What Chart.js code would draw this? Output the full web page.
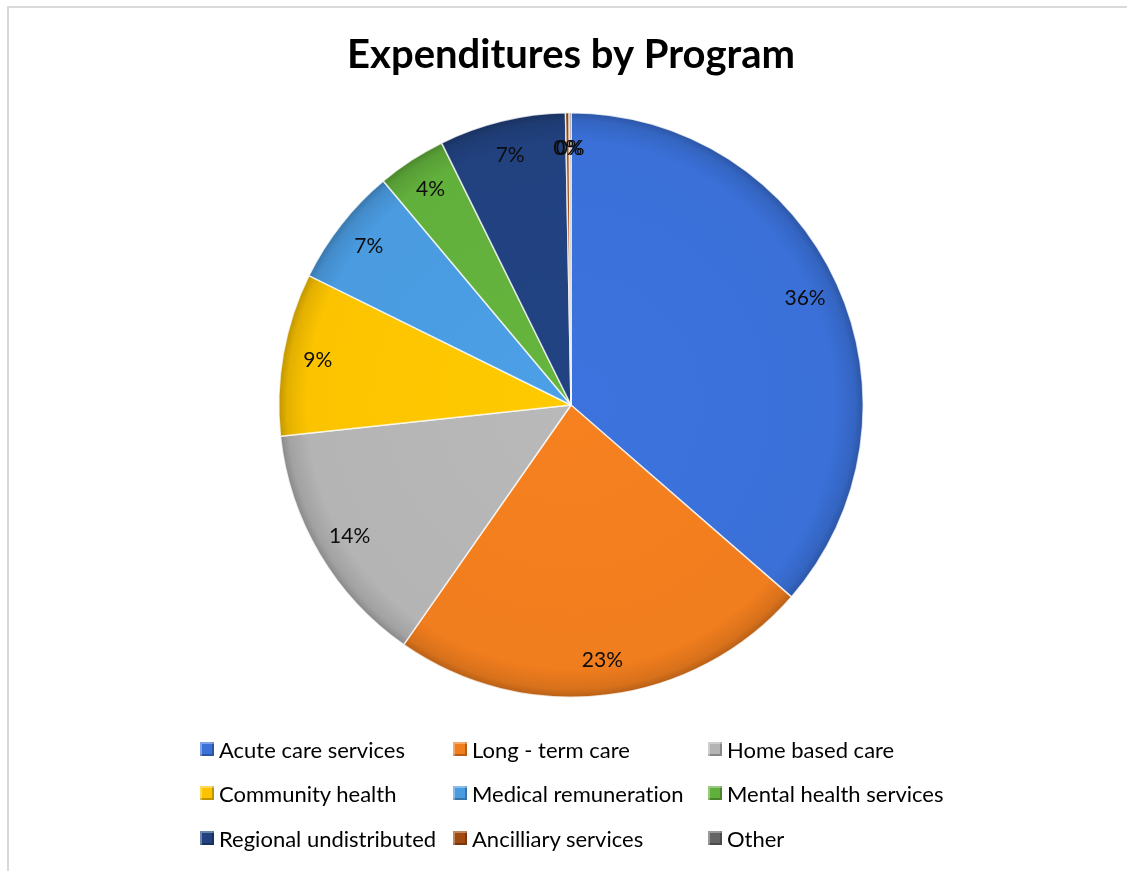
<!DOCTYPE html>
<html>
<head>
<meta charset="utf-8">
<script src="https://cdn.jsdelivr.net/npm/chart.js@4.4.1/dist/chart.umd.min.js"></script>
<style>
  html, body { margin: 0; padding: 0; background: #fff; }
  #wrap { position: relative; width: 1127px; height: 871px; overflow: hidden; }
  #frame { position: absolute; left: 7px; top: 6px; right: -4px; bottom: -4px;
           border-top: 2px solid #d9d9d9; border-left: 2px solid #d9d9d9; }
  #chart_pie { position: absolute; left: 0; top: 0; }
  #legend { position: absolute; left: 0; top: 0; font-family: Lato, "Noto Sans", sans-serif;
            font-size: 22px; color: #000; font-variant-ligatures: none; }
  .item { position: absolute; display: flex; align-items: center; white-space: nowrap; }
  .box { width: 14px; height: 14px; margin-right: 5px; box-sizing: border-box;
         box-shadow: inset 2px 2px 0 rgba(255,255,255,0.35), inset -2px -2px 0 rgba(0,0,0,0.25); }
</style>
</head>
<body>
<div id="wrap">
  <div id="frame"></div>
  <canvas id="chart_pie" width="1127" height="871"></canvas>
  <div id="legend"></div>
</div>
<script>
// Program categories and their share of expenditures (%)
const categories = ['Acute care services', 'Long - term care', 'Home based care',
  'Community health', 'Medical remuneration', 'Mental health services',
  'Regional undistributed', 'Ancilliary services', 'Other'];
const shares = [36.4, 23.3, 13.6, 9.0, 6.6, 3.8, 7.0, 0.2, 0.1];
const sliceColors = ['#3a70d8', '#f07d1e', '#b4b4b4', '#fcc400', '#4a9be0',
  '#62b03c', '#21417f', '#a04a10', '#646464'];

// legend layout: 3 columns x 3 rows
const legendCols = [200, 453, 708];
const legendRows = [749, 793, 838];

const legend = document.getElementById('legend');
categories.forEach((name, i) => {
  const item = document.createElement('div');
  item.className = 'item';
  item.style.left = legendCols[i % 3] + 'px';
  item.style.top = (legendRows[Math.floor(i / 3)] - 14) + 'px';
  item.style.height = '28px';
  const box = document.createElement('span');
  box.className = 'box';
  box.style.background = sliceColors[i];
  item.appendChild(box);
  item.appendChild(document.createTextNode(name));
  legend.appendChild(item);
});

// percentage labels drawn inside each slice
const sliceLabels = {
  id: 'sliceLabels',
  afterDatasetsDraw(chart) {
    const ctx = chart.ctx;
    const meta = chart.getDatasetMeta(0);
    const total = shares.reduce((a, b) => a + b, 0);
    ctx.save();
    ctx.font = '21px Lato, "Noto Sans", sans-serif';
    ctx.fillStyle = '#0d0d0d';
    ctx.textAlign = 'center';
    ctx.textBaseline = 'middle';
    meta.data.forEach((arc, i) => {
      const p = arc.getProps(['x', 'y', 'startAngle', 'endAngle', 'outerRadius'], true);
      const mid = (p.startAngle + p.endAngle) / 2;
      const r = p.outerRadius * 0.88;
      const pct = Math.round(shares[i] / total * 100) + '%';
      ctx.fillText(pct, p.x + Math.cos(mid) * r, p.y + Math.sin(mid) * r);
    });
    ctx.restore();
  }
};

// slightly darker rim to mimic the bevelled slices
function shade(hex, f) {
  const n = parseInt(hex.slice(1), 16);
  const c = [n >> 16, (n >> 8) & 255, n & 255].map(v => Math.max(0, Math.min(255, Math.round(v * f))));
  return 'rgb(' + c.join(',') + ')';
}

const ctx = document.getElementById('chart_pie');
new Chart(ctx, {
  type: 'pie',
  data: {
    labels: categories,
    datasets: [{
      data: shares,
      backgroundColor: (context) => {
        const chart = context.chart;
        const { chartArea } = chart;
        const base = sliceColors[context.dataIndex];
        if (!chartArea) return base;
        const cx = (chartArea.left + chartArea.right) / 2;
        const cy = (chartArea.top + chartArea.bottom) / 2;
        const r = Math.min(chartArea.width, chartArea.height) / 2;
        const g = chart.ctx.createRadialGradient(cx, cy, 0, cx, cy, r);
        g.addColorStop(0, shade(base, 1.03));
        g.addColorStop(0.9, base);
        g.addColorStop(0.97, shade(base, 0.9));
        g.addColorStop(1, shade(base, 0.75));
        return g;
      },
      borderColor: 'rgba(255,255,255,0.75)',
      borderWidth: 1.5,
    }],
  },
  options: {
    responsive: false,
    animation: false,
    layout: { padding: { left: 15, right: 0, top: 0, bottom: 173 } },
    plugins: {
      legend: { display: false },
      tooltip: { enabled: false },
      title: {
        display: true,
        text: 'Expenditures by Program',
        color: '#000',
        font: { family: 'Lato, "Noto Sans", sans-serif', size: 40, weight: 'bold' },
        padding: { top: 31, bottom: 33 },
      },
    },
  },
  plugins: [sliceLabels],
});
</script>
</body>
</html>
